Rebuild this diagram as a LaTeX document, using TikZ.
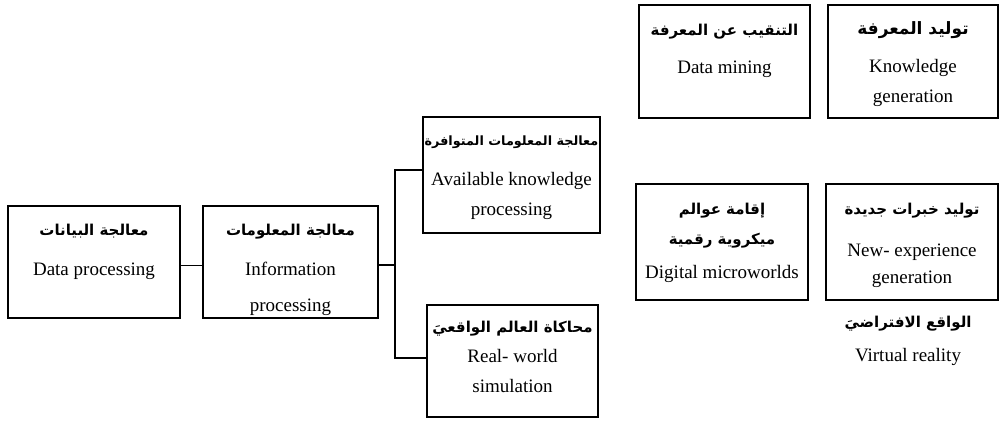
\documentclass[tikz,border=0pt]{standalone}
\usepackage{fontspec}
\setmainfont{Liberation Serif}
\newfontfamily\arabicfont[Script=Arabic]{DejaVu Sans}
\TeXXeTstate=1
\usepackage{tikz}
\usetikzlibrary{positioning}
\newcommand{\artxt}[1]{{\arabicfont\bfseries\fontsize{7.5}{9}\selectfont\beginR #1\endR}}
\tikzset{
  box/.style={
    rectangle, draw=black, line width=1pt, fill=white
  },
  txt/.style={
    inner sep=0pt, align=center, font=\fontsize{9.5}{15}\selectfont
  },
  conn/.style={line width=1pt},
  thinconn/.style={line width=0.5pt}
}
\begin{document}
\begin{tikzpicture}[x=0.5pt, y=-0.5pt]
\useasboundingbox (0,0) rectangle (999,420);

% left chain
\node[box, minimum width=86pt, minimum height=56pt]   (dp)  at (94,262)    {};
\node[box, minimum width=87.5pt, minimum height=56pt] (ip)  at (290.5,262) {};
\node[box, minimum width=88.5pt, minimum height=58pt] (akp) at (511.5,175) {};
\node[box, minimum width=85.5pt, minimum height=56pt] (rws) at (512.5,361) {};

% right block
\node[box, minimum width=85.5pt, minimum height=56.5pt] (dm)  at (724.5,61.5) {};
\node[box, minimum width=85pt, minimum height=56.5pt]   (kg)  at (913,61.5)   {};
\node[box, minimum width=86pt, minimum height=58pt]     (dmw) at (722,242)    {};
\node[box, minimum width=86pt, minimum height=58pt]     (neg) at (912,242)    {};

% texts
\node[txt, below=9.5pt of dp.north]  (dpt)  {\artxt{معالجة البيانات}\\[5pt] Data processing};
\node[txt, below=9.5pt of ip.north]  (ipt)  {\artxt{معالجة المعلومات}\\[5pt] Information\\[3pt] processing};
\node[txt, below=9.5pt of akp.north] (akpt) {{\arabicfont\bfseries\fontsize{6.4}{8}\selectfont\beginR معالجة المعلومات المتوافرة\endR}\\[5pt] Available knowledge\\ processing};
\node[txt, below=8.5pt of rws.north] (rwst) {\artxt{محاكاة العالم الواقعيَ}\\ Real- world\\ simulation};
\node[txt, below=10pt of dm.north]   (dmt)  {\artxt{التنقيب عن المعرفة}\\[4pt] Data mining};
\node[txt, below=8.5pt of kg.north]  (kgt)  {{\arabicfont\bfseries\fontsize{8.5}{10}\selectfont\beginR توليد المعرفة\endR}\\[4pt] Knowledge\\ generation};
\node[txt, below=10pt of dmw.north]  (dmwt) {\artxt{إقامة عوالم}\\ \artxt{ميكروية رقمية}\\[2pt] Digital microworlds};
\node[txt, below=10pt of neg.north]  (negt) {\artxt{توليد خبرات جديدة}\\[6pt] New- experience\\[-1.5pt] generation};
\node[txt, below=7.5pt of neg.south, xshift=-2pt] (vr) {\artxt{الواقع الافتراضيَ}\\[2pt] Virtual reality};

% connectors
\coordinate (jn) at (395,265);
\draw[thinconn] (dp.east |- jn) -- (ip.west |- jn);
\draw[conn] (ip.east |- jn) -- (jn);
\draw[conn] (akp.west |- 0,170) -| (jn) |- (rws.west |- 0,358);

\end{tikzpicture}
\end{document}
